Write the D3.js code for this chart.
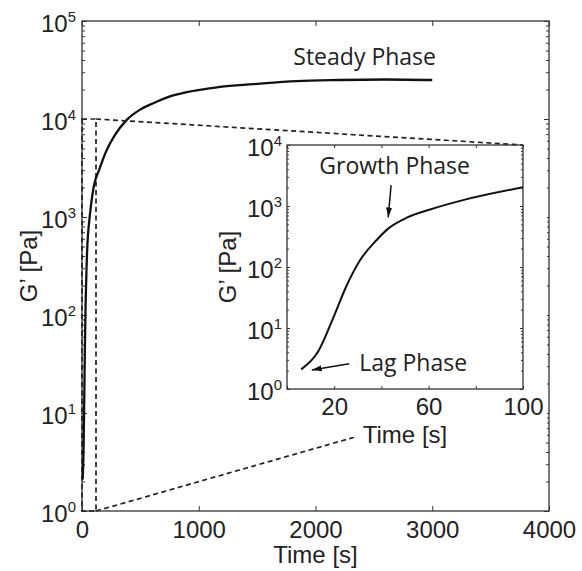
<!DOCTYPE html>
<html>
<head>
<meta charset="utf-8">
<script src="https://cdn.jsdelivr.net/npm/d3@7"></script>
<style>
  body { margin: 0; background: #fff; }
  svg text { font-family: "Liberation Sans", Arial, sans-serif; fill: #222; }
  svg text.note { font-family: "Open Sans", sans-serif; }
</style>
</head>
<body>
<svg id="chart" width="582" height="571"></svg>
<script>
//======= data =======//
let timeS = [6, 13, 20, 25, 31, 38, 43, 51, 61, 75, 100, 150, 211, 280, 383, 500, 611, 754, 897, 1050, 1182, 1467, 1839, 2200, 2600, 3000];
let modulusPa = [2.1, 4, 16, 47, 130, 277, 430, 650, 885, 1260, 2030, 3100, 4800, 6800, 9800, 12500, 14500, 17000, 18800, 20200, 21300, 22700, 24400, 25000, 25300, 25000];

let mainXTicks = [0, 1000, 2000, 3000, 4000];
let mainYTicks = [1, 10, 100, 1e3, 1e4, 1e5];
let insetXTicks = [0, 20, 40, 60, 80, 100];
let insetXLabels = [20, 60, 100];
let insetYTicks = [1, 10, 100, 1e3, 1e4];
let zoomTime = [0, 120];
let zoomModulus = [1, 1e4];

let svg = d3.select('#chart');

let defs = svg.append('defs');
defs.append('marker')
  .attr('id', 'arrow')
  .attr('viewBox', '0 0 10 6')
  .attr('refX', 10).attr('refY', 3)
  .attr('markerWidth', 10).attr('markerHeight', 6)
  .attr('markerUnits', 'userSpaceOnUse')
  .attr('orient', 'auto')
  .append('path')
  .attr('d', 'M0,0 L10,3 L0,6 Z')
  .attr('fill', '#111');

function minorTicks(domain) {
  let out = [];
  let lo = Math.round(Math.log10(domain[0]));
  let hi = Math.round(Math.log10(domain[1]));
  for (let e = lo; e < hi; e++)
    for (let m = 2; m < 10; m++) out.push(m * Math.pow(10, e));
  return out;
}

function powLabel(text, fs) {
  text.each(function (d) {
    let t = d3.select(this);
    t.text(null);
    t.append('tspan').text('10');
    t.append('tspan')
      .attr('dy', -fs * 0.4)
      .attr('font-size', fs * 0.62)
      .text(Math.round(Math.log10(d)));
  });
}

// axes box with inward ticks on all four sides (matlab style)
function drawFrame(g, x, y, xTicks, xLabels, yTicks, o) {
  let x0 = x.range()[0], x1 = x.range()[1];
  let y0 = y.range()[0], y1 = y.range()[1];

  g.append('rect')
    .attr('x', x0).attr('y', y1)
    .attr('width', x1 - x0).attr('height', y0 - y1)
    .attr('fill', 'none').attr('stroke', '#333').attr('stroke-width', 1.3);

  let bottom = g.append('g')
    .attr('transform', 'translate(0,' + y0 + ')')
    .call(d3.axisBottom(x).tickValues(xTicks).tickSizeInner(-o.tick).tickSizeOuter(0)
      .tickPadding(o.xPad)
      .tickFormat(d => xLabels.indexOf(d) >= 0 ? d : ''));
  bottom.selectAll('text').attr('font-size', o.fs).attr('fill', '#222');

  g.append('g')
    .attr('transform', 'translate(0,' + y1 + ')')
    .call(d3.axisTop(x).tickValues(xTicks).tickSizeInner(-o.tick).tickSizeOuter(0).tickFormat(''));

  let left = g.append('g')
    .attr('transform', 'translate(' + x0 + ',0)')
    .call(d3.axisLeft(y).tickValues(yTicks).tickSizeInner(-o.tick).tickSizeOuter(0).tickPadding(o.yPad));
  left.selectAll('text')
    .attr('font-size', o.fs)
    .attr('dy', '0.42em')
    .call(powLabel, o.fs);

  g.append('g')
    .attr('transform', 'translate(' + x1 + ',0)')
    .call(d3.axisRight(y).tickValues(yTicks).tickSizeInner(-o.tick).tickSizeOuter(0).tickFormat(''));

  let minors = minorTicks(y.domain());
  g.append('g')
    .attr('transform', 'translate(' + x0 + ',0)')
    .call(d3.axisLeft(y).tickValues(minors).tickSizeInner(-o.minor).tickSizeOuter(0).tickFormat(''));
  g.append('g')
    .attr('transform', 'translate(' + x1 + ',0)')
    .call(d3.axisRight(y).tickValues(minors).tickSizeInner(-o.minor).tickSizeOuter(0).tickFormat(''));

  g.selectAll('.domain').remove();
  g.selectAll('.tick line').attr('stroke', '#333').attr('stroke-width', 1);

  g.append('text')
    .attr('x', (x0 + x1) / 2)
    .attr('y', o.xLabelY)
    .attr('text-anchor', 'middle')
    .attr('font-size', o.fs)
    .text('Time [s]');

  g.append('text')
    .attr('transform', 'translate(' + o.yLabelX + ',' + (y0 + y1) / 2 + ') rotate(-90)')
    .attr('text-anchor', 'middle')
    .attr('font-size', o.fs)
    .text('G\u2019 [Pa]');
}

//======= main chart =======//
let x = d3.scaleLinear().domain([0, 4000]).range([82, 549]);
let y = d3.scaleLog().domain([1, 1e5]).range([511, 21]);

let xi = d3.scaleLinear().domain([0, 100]).range([287, 523]);
let yi = d3.scaleLog().domain([1, 1e4]).range([389, 145]);

let mainG = svg.append('g');
drawFrame(mainG, x, y, mainXTicks, mainXTicks, mainYTicks,
  { fs: 24, tick: 5, minor: 3, xPad: 10, yPad: 6, xLabelY: 563, yLabelX: 37 });

// zoom box and lower connector (the inset hides part of it)
let dash = '5,3.5';
mainG.append('rect')
  .attr('x', x(zoomTime[0])).attr('y', y(zoomModulus[1]))
  .attr('width', x(zoomTime[1]) - x(zoomTime[0]))
  .attr('height', y(zoomModulus[0]) - y(zoomModulus[1]))
  .attr('fill', 'none').attr('stroke', '#222')
  .attr('stroke-width', 1.7).attr('stroke-dasharray', dash);

mainG.append('line')
  .attr('x1', x(zoomTime[1])).attr('y1', y(zoomModulus[0]))
  .attr('x2', xi.range()[1]).attr('y2', yi.range()[0])
  .attr('stroke', '#222').attr('stroke-width', 1.7).attr('stroke-dasharray', dash);

let series = timeS.map((t, i) => ({ t: t, g: modulusPa[i] }));

mainG.append('path')
  .datum(series)
  .attr('fill', 'none')
  .attr('stroke', '#111')
  .attr('stroke-width', 2.3)
  .attr('d', d3.line().curve(d3.curveMonotoneX)
    .x(d => x(d.t)).y(d => y(d.g)));

mainG.append('text')
  .attr('class', 'note')
  .attr('x', x(1810)).attr('y', y(35500))
  .attr('font-size', 23)
  .text('Steady Phase');

//======= inset =======//
let insetG = svg.append('g');
insetG.append('rect')
  .attr('x', 212).attr('y', 135)
  .attr('width', 335).attr('height', 302)
  .attr('fill', '#fff');

// upper connector stays on top of the inset background
insetG.append('line')
  .attr('x1', x(zoomTime[1])).attr('y1', y(zoomModulus[1]))
  .attr('x2', xi.range()[1]).attr('y2', yi.range()[1])
  .attr('stroke', '#222').attr('stroke-width', 1.7).attr('stroke-dasharray', dash);

drawFrame(insetG, xi, yi, insetXTicks, insetXLabels, insetYTicks,
  { fs: 24, tick: 3, minor: 2, xPad: 9, yPad: 5, xLabelY: 443, yLabelX: 236 });

insetG.append('path')
  .datum(series.filter(d => d.t <= 100))
  .attr('fill', 'none')
  .attr('stroke', '#111')
  .attr('stroke-width', 2)
  .attr('d', d3.line().curve(d3.curveMonotoneX)
    .x(d => xi(d.t)).y(d => yi(d.g)));

insetG.append('text')
  .attr('class', 'note')
  .attr('x', xi(13.7)).attr('y', yi(3300))
  .attr('font-size', 23)
  .text('Growth Phase');

insetG.append('line')
  .attr('x1', xi(44.1)).attr('y1', yi(2200))
  .attr('x2', xi(42.9)).attr('y2', yi(650))
  .attr('stroke', '#111').attr('stroke-width', 1.5)
  .attr('marker-end', 'url(#arrow)');

insetG.append('text')
  .attr('class', 'note')
  .attr('x', xi(30.6)).attr('y', yi(2.0))
  .attr('font-size', 23)
  .text('Lag Phase');

insetG.append('line')
  .attr('x1', xi(26.4)).attr('y1', yi(2.6))
  .attr('x2', xi(10.5)).attr('y2', yi(2.05))
  .attr('stroke', '#111').attr('stroke-width', 1.5)
  .attr('marker-end', 'url(#arrow)');
</script>
</body>
</html>
